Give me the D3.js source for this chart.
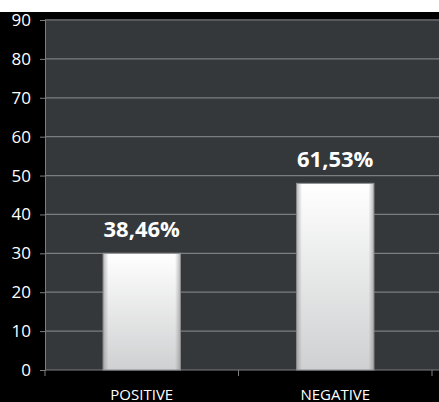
<!DOCTYPE html>
<html>
<head>
<meta charset="utf-8">
<script src="https://cdn.jsdelivr.net/npm/d3@7"></script>
<style>
  body { margin: 0; background: #fff; }
  text { font-family: "Open Sans", "Noto Sans", sans-serif; }
</style>
</head>
<body>
<svg id="chart" width="439" height="402"></svg>
<script>
const categories = ['POSITIVE', 'NEGATIVE'];
const values = [30, 48];
const labels = ['38,46%', '61,53%'];
const yTicks = [0, 10, 20, 30, 40, 50, 60, 70, 80, 90];

const svg = d3.select('#chart');
const width = +svg.attr('width');
const height = +svg.attr('height');

const margin = { top: 20, left: 45, right: 7, bottom: 32 };
const plotBottom = height - margin.bottom;

// black frame below the white strip at the top
svg.append('rect')
    .attr('x', 0).attr('y', 12)
    .attr('width', width).attr('height', height - 12)
    .attr('fill', '#000');

// plot background
svg.append('rect')
    .attr('x', margin.left).attr('y', 19)
    .attr('width', width - margin.left).attr('height', plotBottom - 19)
    .attr('fill', '#34383b');

const x = d3.scaleBand()
    .domain(categories)
    .range([margin.left, width - margin.right])
    .paddingInner(0.6)
    .paddingOuter(0.3);

const y = d3.scaleLinear()
    .domain([0, 90])
    .range([plotBottom, margin.top]);

// grid lines
svg.append('g')
    .selectAll('line')
    .data(yTicks.filter(d => d > 0))
    .join('line')
    .attr('x1', margin.left)
    .attr('x2', width)
    .attr('y1', d => y(d))
    .attr('y2', d => y(d))
    .attr('stroke', '#7b7e80')
    .attr('stroke-width', 1.2);

// y axis
const yAxis = svg.append('g')
    .attr('transform', `translate(${margin.left},0)`)
    .call(d3.axisLeft(y).tickValues(yTicks).tickSize(5).tickPadding(9));
yAxis.select('.domain').attr('stroke', '#7b7e80');
yAxis.selectAll('.tick line').attr('stroke', '#7b7e80');
yAxis.selectAll('.tick text')
    .attr('fill', '#fff')
    .style('font-size', '17px');

// x axis: ticks on the band edges
const bandEdges = [margin.left, (x('POSITIVE') + x.bandwidth() + x('NEGATIVE')) / 2, width - margin.right];
svg.append('line')
    .attr('x1', margin.left).attr('x2', width)
    .attr('y1', plotBottom).attr('y2', plotBottom)
    .attr('stroke', '#7b7e80').attr('stroke-width', 1.2);
svg.append('g')
    .selectAll('line')
    .data(bandEdges)
    .join('line')
    .attr('x1', d => d).attr('x2', d => d)
    .attr('y1', plotBottom).attr('y2', plotBottom + 6)
    .attr('stroke', '#7b7e80');

svg.append('g')
    .selectAll('text')
    .data(categories)
    .join('text')
    .attr('x', d => x(d) + x.bandwidth() / 2)
    .attr('y', height - 2)
    .attr('text-anchor', 'middle')
    .attr('fill', '#fff')
    .style('font-size', '15px')
    .text(d => d);

// bar gradients
const defs = svg.append('defs');
const vGrad = defs.append('linearGradient')
    .attr('id', 'barFill').attr('x1', 0).attr('y1', 0).attr('x2', 0).attr('y2', 1);
vGrad.append('stop').attr('offset', '0%').attr('stop-color', '#ffffff');
vGrad.append('stop').attr('offset', '100%').attr('stop-color', '#cfd0d1');

const hGrad = defs.append('linearGradient')
    .attr('id', 'barEdge').attr('x1', 0).attr('y1', 0).attr('x2', 1).attr('y2', 0);
hGrad.append('stop').attr('offset', '0%').attr('stop-color', '#888').attr('stop-opacity', 0.6);
hGrad.append('stop').attr('offset', '7%').attr('stop-color', '#888').attr('stop-opacity', 0);
hGrad.append('stop').attr('offset', '93%').attr('stop-color', '#888').attr('stop-opacity', 0);
hGrad.append('stop').attr('offset', '100%').attr('stop-color', '#888').attr('stop-opacity', 0.6);

const bars = svg.append('g')
    .selectAll('g')
    .data(categories.map((c, i) => ({ cat: c, value: values[i], label: labels[i] })))
    .join('g');

bars.append('rect')
    .attr('x', d => x(d.cat))
    .attr('y', d => y(d.value))
    .attr('width', x.bandwidth())
    .attr('height', d => y(0) - y(d.value))
    .attr('fill', 'url(#barFill)')
    .attr('stroke', '#8a8c8e')
    .attr('stroke-width', 1);

bars.append('rect')
    .attr('x', d => x(d.cat))
    .attr('y', d => y(d.value))
    .attr('width', x.bandwidth())
    .attr('height', d => y(0) - y(d.value))
    .attr('fill', 'url(#barEdge)');

bars.append('text')
    .attr('x', d => x(d.cat) + x.bandwidth() / 2)
    .attr('y', d => y(d.value) - 16)
    .attr('text-anchor', 'middle')
    .attr('fill', '#fff')
    .style('font-size', '22px')
    .style('font-weight', 'bold')
    .text(d => d.label);
</script>
</body>
</html>
